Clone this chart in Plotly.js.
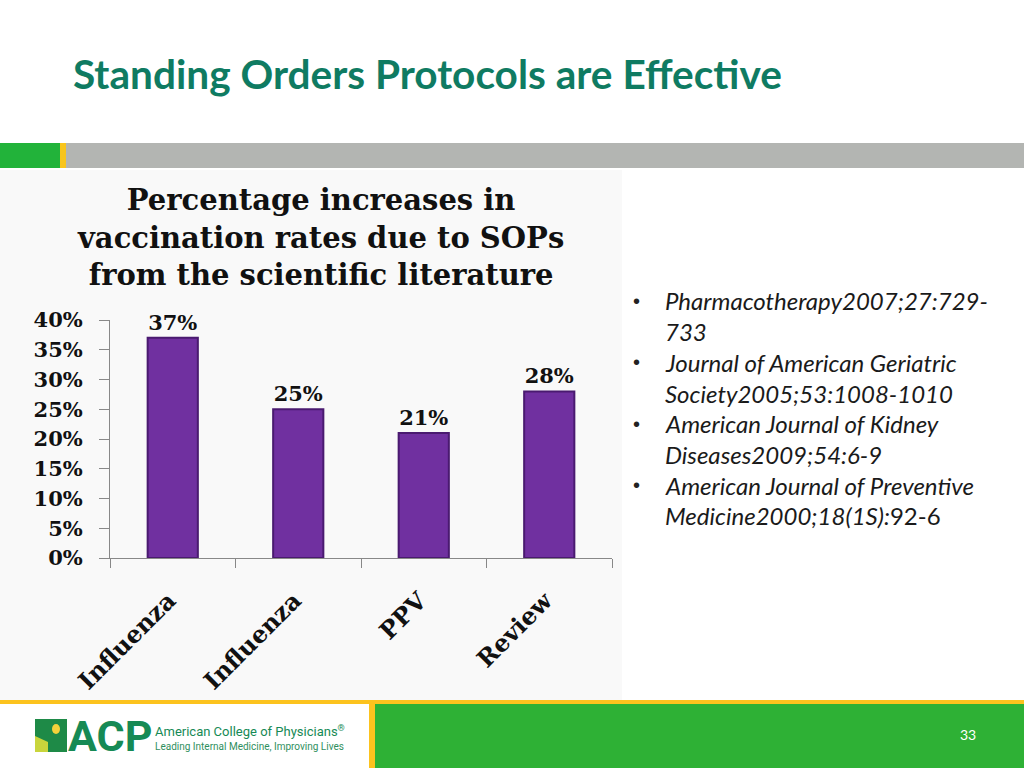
<!DOCTYPE html>
<html>
<head>
<meta charset="utf-8">
<script src="https://cdn.plot.ly/plotly-3.0.1.min.js"></script>
<style>
html,body{margin:0;padding:0;background:#fff;}
#chart{width:1024px;height:768px;}
</style>
</head>
<body>
<div id="chart"></div>
<script>
// ---- data ----
var studies = ['Influenza', 'Influenza', 'PPV', 'Review'];
var increases = [37, 25, 21, 28];
var yTicks = [0, 5, 10, 15, 20, 25, 30, 35, 40];
var yTickLabels = ['0%', '5%', '10%', '15%', '20%', '25%', '30%', '35%', '40%'];
var references = [
  'Pharmacotherapy2007;27:729-',
  '733',
  'Journal of American Geriatric',
  'Society2005;53:1008-1010',
  'American Journal of Kidney',
  'Diseases2009;54:6-9',
  'American Journal of Preventive',
  'Medicine2000;18(1S):<span style="font-style:normal">92-6</span>'
];
var bulletStarts = [true, false, true, false, true, false, true, false];

var W = 1024, H = 768;
function px(x){return x / W;}
function py(y){return 1 - y / H;}

var serif = 'DejaVu Serif, Liberation Serif, serif';
var positions = studies.map(function(_, i){ return i; });

var trace = {
  type: 'bar',
  x: positions,
  y: increases,
  width: 0.4,
  marker: {color: '#7030A0', line: {color: '#4A1A70', width: 2}},
  text: increases.map(function(v){ return v + '%'; }),
  textposition: 'outside',
  cliponaxis: false,
  textfont: {family: serif, size: 21, color: '#111', weight: 'bold'},
  hoverinfo: 'none'
};

var shapes = [
  // top band
  {type:'rect', xref:'paper', yref:'paper', x0:0, x1:px(60), y0:py(168), y1:py(143), fillcolor:'#22B33A', line:{width:0}, layer:'below'},
  {type:'rect', xref:'paper', yref:'paper', x0:px(60), x1:px(66), y0:py(168), y1:py(143), fillcolor:'#F8C51C', line:{width:0}, layer:'below'},
  {type:'rect', xref:'paper', yref:'paper', x0:px(66), x1:1, y0:py(168), y1:py(143), fillcolor:'#B3B5B2', line:{width:0}, layer:'below'},
  // chart picture background
  {type:'rect', xref:'paper', yref:'paper', x0:0, x1:px(622), y0:py(700), y1:py(170), fillcolor:'#F9F9F9', line:{width:0}, layer:'below'},
  // footer
  {type:'rect', xref:'paper', yref:'paper', x0:0, x1:1, y0:py(704), y1:py(700), fillcolor:'#FCC31E', line:{width:0}, layer:'below'},
  {type:'rect', xref:'paper', yref:'paper', x0:px(369), x1:px(375), y0:0, y1:py(704), fillcolor:'#FCC31E', line:{width:0}, layer:'below'},
  {type:'rect', xref:'paper', yref:'paper', x0:px(375), x1:1, y0:0, y1:py(704), fillcolor:'#2EB135', line:{width:0}, layer:'below'},
  // logo icon
  {type:'rect', xref:'paper', yref:'paper', x0:px(35), x1:px(67), y0:py(752), y1:py(719), fillcolor:'#C9D53C', line:{width:0}},
  {type:'path', xref:'paper', yref:'paper', path:'M '+px(35)+','+py(719)+' L '+px(67)+','+py(719)+' L '+px(67)+','+py(752)+' L '+px(48)+','+py(752)+' L '+px(48)+','+py(742)+' L '+px(35)+','+py(736)+' Z', fillcolor:'#1E8A47', line:{width:0}},
  {type:'circle', xref:'paper', yref:'paper', x0:px(52), x1:px(60), y0:py(734), y1:py(724), fillcolor:'#F4D23B', line:{width:0}}
];

var annotations = [
  {xref:'paper', yref:'paper', x:px(320), y:py(181), xanchor:'center', yanchor:'top', align:'center',
   text:'Percentage increases in<br>vaccination rates due to SOPs<br>from the scientific literature',
   showarrow:false, font:{family:serif, size:29, color:'#111', weight:'bold'}},
  // footer logo text
  {xref:'paper', yref:'paper', x:px(66), y:py(736), xanchor:'left', yanchor:'middle', text:'<b>ACP</b>', showarrow:false,
   font:{family:'Roboto, Liberation Sans, sans-serif', size:43, color:'#168A55'}},
  {xref:'paper', yref:'paper', x:px(153), y:py(731), xanchor:'left', yanchor:'middle', text:'American College of Physicians<sup>®</sup>', showarrow:false,
   font:{family:'Roboto, Liberation Sans, sans-serif', size:13, color:'#168A55'}},
  {xref:'paper', yref:'paper', x:px(153), y:py(746), xanchor:'left', yanchor:'middle', text:'Leading Internal Medicine, Improving Lives', showarrow:false,
   font:{family:'Roboto, Liberation Sans, sans-serif', size:10, color:'#2F8F5E'}},
  {xref:'paper', yref:'paper', x:px(968), y:py(734), xanchor:'center', yanchor:'middle', text:'33', showarrow:false,
   font:{family:'Lato, Liberation Sans, sans-serif', size:14, color:'#FFFFFF'}}
];

var lineY0 = 301, lineStep = 30.7;
references.forEach(function(t, i){
  var y = lineY0 + i * lineStep;
  if (bulletStarts[i]) {
    annotations.push({xref:'paper', yref:'paper', x:px(636), y:py(y), xanchor:'center', yanchor:'middle', text:'•', showarrow:false,
      font:{family:'Liberation Sans, sans-serif', size:20, color:'#222'}});
  }
  annotations.push({xref:'paper', yref:'paper', x:px(663), y:py(y), xanchor:'left', yanchor:'middle', text:'<i>'+t+'</i>', showarrow:false,
    font:{family:'Lato, Liberation Sans, sans-serif', size:24, color:'#1a1a1a'}});
});

var layout = {
  width: W, height: H,
  margin: {l:0, r:0, t:0, b:0},
  paper_bgcolor: '#FFFFFF',
  plot_bgcolor: 'rgba(0,0,0,0)',
  showlegend: false,
  title: {text: '<b>Standing Orders Protocols are Effective</b>', x: px(73), xanchor: 'left', xref: 'paper',
          y: py(75), yanchor: 'middle', yref: 'paper',
          font: {family: 'Lato, Liberation Sans, sans-serif', size: 40.6, color: '#0F7B62'}},
  xaxis: {
    domain: [px(110), px(612)],
    range: [-0.5, 3.5],
    tickvals: positions, ticktext: studies,
    tickangle: -45,
    ticks: 'outside', ticklen: 0,
    minor: {tick0: -0.5, dtick: 1, ticks: 'outside', ticklen: 9, tickcolor: '#888', tickwidth: 1},
    showline: true, linecolor: '#888', linewidth: 1,
    showgrid: false, zeroline: false,
    tickfont: {family: serif, size: 24, color: '#111', weight: 'bold'},
    ticklabelstandoff: 18, ticklabelshift: -4,
    fixedrange: true
  },
  yaxis: {
    domain: [py(558), py(320)],
    range: [0, 40],
    tickvals: yTicks, ticktext: yTickLabels,
    ticks: 'outside', ticklen: 10, tickcolor: '#888',
    showline: true, linecolor: '#888', linewidth: 1,
    showgrid: false, zeroline: false,
    tickfont: {family: serif, size: 21, color: '#111', weight: 'bold'},
    ticklabelstandoff: 12,
    fixedrange: true
  },
  shapes: shapes,
  annotations: annotations
};

Plotly.newPlot('chart', [trace], layout, {displayModeBar: false, staticPlot: true});
</script>
</body>
</html>
